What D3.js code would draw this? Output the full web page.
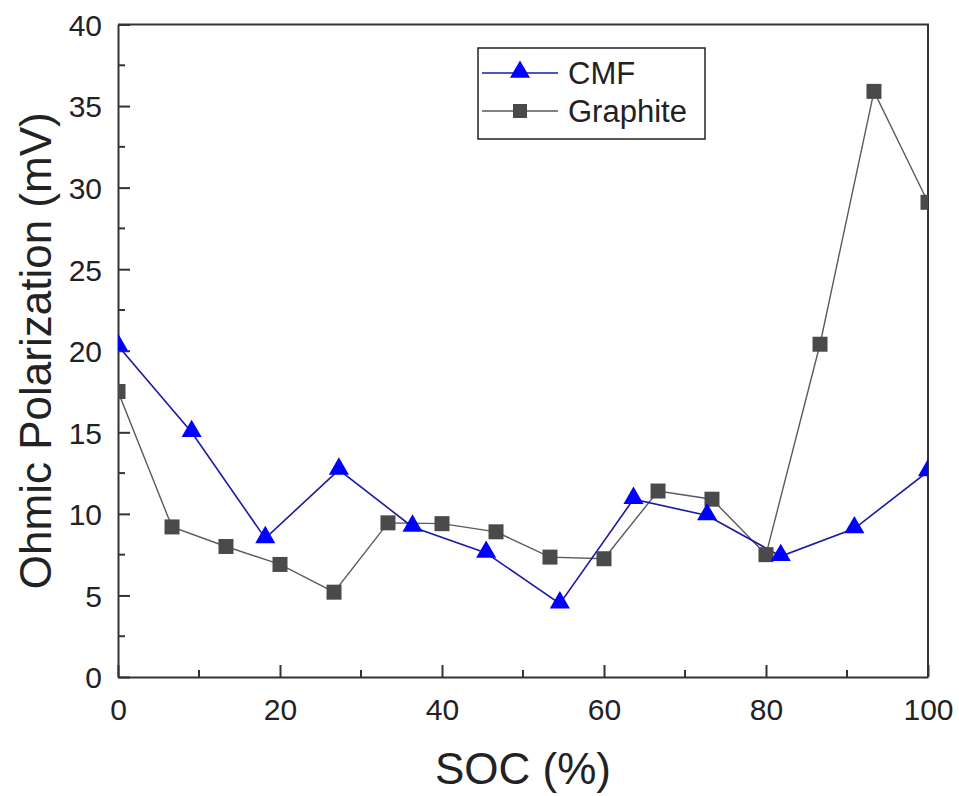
<!DOCTYPE html>
<html><head><meta charset="utf-8">
<script src="https://cdn.jsdelivr.net/npm/d3@7"></script>
<style>body{margin:0;background:#fff}svg{display:block}text{font-family:"Liberation Sans",Arial,sans-serif;fill:#222}</style>
</head><body>
<script>
const cmfX = [0, 9.09, 18.18, 27.27, 36.36, 45.45, 54.55, 63.64, 72.73, 81.82, 90.91, 100];
const cmfY = [20.3, 15.0, 8.5, 12.7, 9.2, 7.6, 4.5, 10.9, 9.9, 7.4, 9.1, 12.6];
const graphiteX = [0, 6.67, 13.33, 20, 26.67, 33.33, 40, 46.67, 53.33, 60, 66.67, 73.33, 80, 86.67, 93.33, 100];
const graphiteY = [17.5, 9.2, 8.0, 6.9, 5.2, 9.45, 9.4, 8.9, 7.35, 7.25, 11.4, 10.9, 7.5, 20.4, 35.9, 29.1];
const xTicks = [0, 20, 40, 60, 80, 100];
const yTicks = [0, 5, 10, 15, 20, 25, 30, 35, 40];
const seriesNames = ["CMF", "Graphite"];

const W = 959, H = 796;
const L = 118, R = 928, T = 24.5, B = 677;
const svg = d3.select("body").append("svg").attr("width", W).attr("height", H);
const x = d3.scaleLinear().domain([0, 100]).range([L, R]);
const y = d3.scaleLinear().domain([0, 40]).range([B, T]);

svg.append("defs").append("clipPath").attr("id", "clip")
  .append("rect").attr("x", L).attr("y", T).attr("width", R - L).attr("height", B - T);

svg.append("path").attr("d", `M${L},${T}H${R}V${B}`).attr("fill", "none").attr("stroke", "#333").attr("stroke-width", 2);

const xAxis = d3.axisBottom(x).tickValues(xTicks).tickSizeInner(-12).tickSizeOuter(0).tickPadding(22);
const gx = svg.append("g").attr("transform", `translate(0,${B})`).call(xAxis);
const yAxis = d3.axisLeft(y).tickValues(yTicks).tickSizeInner(-12).tickSizeOuter(0).tickPadding(16);
const gy = svg.append("g").attr("transform", `translate(${L},0)`).call(yAxis);
[gx, gy].forEach(g => {
  g.select(".domain").attr("stroke", "#333").attr("stroke-width", 2);
  g.selectAll(".tick line").attr("stroke", "#333").attr("stroke-width", 2);
  g.selectAll(".tick text").style("font-size", "30px").style("font-family", "Liberation Sans, Arial, sans-serif").attr("fill", "#222");
});
gy.selectAll(".tick text").attr("dy", "0.36em");
const xMinor = d3.range(10, 100, 20);
const yMinor = d3.range(2.5, 40, 5);
svg.append("g").selectAll("line").data(xMinor).join("line")
  .attr("x1", d => x(d)).attr("x2", d => x(d)).attr("y1", B).attr("y2", B - 7)
  .attr("stroke", "#333").attr("stroke-width", 2);
svg.append("g").selectAll("line").data(yMinor).join("line")
  .attr("y1", d => y(d)).attr("y2", d => y(d)).attr("x1", L).attr("x2", L + 7)
  .attr("stroke", "#333").attr("stroke-width", 2);

svg.append("text").attr("x", (L + R) / 2).attr("y", 784).attr("text-anchor", "middle")
  .style("font-size", "44px").text("SOC (%)");
svg.append("text").attr("transform", `translate(51,${(T + B) / 2}) rotate(-90)`).attr("text-anchor", "middle")
  .style("font-size", "44px").text("Ohmic Polarization (mV)");

const plot = svg.append("g").attr("clip-path", "url(#clip)");
const line = d3.line().x(d => x(d[0])).y(d => y(d[1]));
const gData = graphiteX.map((v, i) => [v, graphiteY[i]]);
const cData = cmfX.map((v, i) => [v, cmfY[i]]);

const gColor = "#4a4a4a", gLine = "#5a5a5a";
const cColor = "#0000ff", cLine = "#1a1aa6";
const tri = d3.symbol().type(d3.symbolTriangle).size(175);

plot.append("path").datum(gData).attr("d", line).attr("fill", "none").attr("stroke", gLine).attr("stroke-width", 1.4);
plot.append("path").datum(cData).attr("d", line).attr("fill", "none").attr("stroke", cLine).attr("stroke-width", 1.6);
plot.selectAll(".sq").data(gData).join("rect").attr("class", "sq")
  .attr("x", d => x(d[0]) - 7.5).attr("y", d => y(d[1]) - 7.5).attr("width", 15).attr("height", 15).attr("fill", gColor);
plot.selectAll(".tri").data(cData).join("path").attr("class", "tri")
  .attr("transform", d => `translate(${x(d[0])},${y(d[1]) - 1})`).attr("d", tri).attr("fill", cColor);

const lg = svg.append("g");
lg.append("rect").attr("x", 478).attr("y", 48).attr("width", 227).attr("height", 91)
  .attr("fill", "#fff").attr("stroke", "#222").attr("stroke-width", 1.5);
const rows = [{n: seriesNames[0], y: 73, c: cColor, l: cLine, m: "tri"}, {n: seriesNames[1], y: 111, c: gColor, l: gLine, m: "sq"}];
rows.forEach(r => {
  lg.append("line").attr("x1", 482).attr("x2", 558).attr("y1", r.y).attr("y2", r.y).attr("stroke", r.l).attr("stroke-width", 1.6);
  if (r.m === "tri") lg.append("path").attr("transform", `translate(520,${r.y - 1})`).attr("d", tri).attr("fill", r.c);
  else lg.append("rect").attr("x", 513).attr("y", r.y - 7).attr("width", 14).attr("height", 14).attr("fill", r.c);
  lg.append("text").attr("x", 568).attr("y", r.y).attr("dy", "0.36em").style("font-size", "31px").text(r.n);
});
</script>
</body></html>
